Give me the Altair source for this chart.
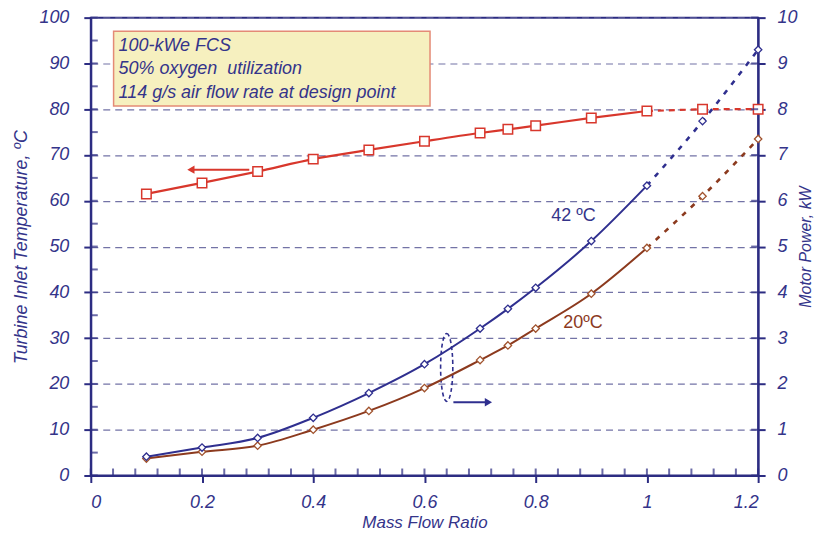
import altair as alt
import pandas as pd

# ---------------- data ----------------
flow = [0.1, 0.2, 0.3, 0.4, 0.5, 0.6, 0.7, 0.75, 0.8, 0.9, 1.0]
flow_ext = [1.0, 1.1, 1.2]

temp = [61.5, 63.9, 66.4, 69.1, 71.1, 73.0, 74.8, 75.6, 76.4, 78.1, 79.6]
temp_ext = [79.6, 80.0, 80.0]

p42 = [0.41, 0.61, 0.82, 1.26, 1.80, 2.43, 3.21, 3.64, 4.10, 5.12, 6.33]
p42_ext = [6.33, 7.74, 9.30]

p20 = [0.37, 0.52, 0.65, 1.00, 1.41, 1.91, 2.52, 2.84, 3.21, 3.97, 4.97]
p20_ext = [4.97, 6.10, 7.35]

x_ticks = [0, 0.2, 0.4, 0.6, 0.8, 1.0, 1.2]
x_minor = [0.04, 0.08, 0.12, 0.16, 0.24, 0.28, 0.32, 0.36, 0.44, 0.48, 0.52, 0.56,
           0.64, 0.68, 0.72, 0.76, 0.84, 0.88, 0.92, 0.96, 1.04, 1.08, 1.12, 1.16]
y_left_ticks = [0, 10, 20, 30, 40, 50, 60, 70, 80, 90, 100]
y_left_minor = [5, 15, 25, 35, 45, 55, 65, 75, 85, 95]
y_right_ticks = [0, 1, 2, 3, 4, 5, 6, 7, 8, 9, 10]

box_lines = ["100-kWe FCS", "50% oxygen\u00a0 utilization", "114 g/s air flow rate at design point"]
box_line_y = [93.9, 88.7, 83.5]
box_extent = {"x": 0.041, "x2": 0.61, "y": 97.0, "y2": 80.7}

curve_labels = ["42 ºC", "20ºC"]
curve_label_x = [0.868, 0.885]
curve_label_y = [5.66, 3.33]

# annotation arrows (data coords)
red_arrow_x = [0.285, 0.18]
red_arrow_y = [66.8, 66.8]
blue_arrow_x = [0.652, 0.715]
blue_arrow_y = [16.0, 16.0]
loop_center = (0.64, 23.6)

# ---------------- styles ----------------
NAVY = "#34348a"
AXIS = "#2c2c82"
RED = "#d8372c"
BLUE = "#2f2f8f"
BROWN = "#8c3a1e"
GRID = "#7373a6"
FONT = "Liberation Sans"

xs = alt.Scale(domain=[0, 1.2], nice=False, zero=False)
yl = alt.Scale(domain=[0, 100], nice=False)
yr = alt.Scale(domain=[0, 10], nice=False)

x_axis = alt.Axis(values=x_ticks, labelExpr="format(datum.value, '~g')",
                  tickSize=7, tickWidth=2, tickColor=AXIS, domainColor=AXIS, domainWidth=2,
                  labelPadding=11, titlePadding=3, titleFontSize=17, grid=False)
yl_axis = alt.Axis(values=y_left_ticks, tickSize=7, tickWidth=2, tickColor=AXIS,
                   domainColor=AXIS, domainWidth=2, labelPadding=15, titlePadding=8,
                   grid=True, gridColor=GRID, gridDash=[7, 5], gridWidth=1.2)
yr_axis = alt.Axis(orient="right", values=y_right_ticks, tickSize=7, tickWidth=2, tickColor=AXIS,
                   domainColor=AXIS, domainWidth=2, labelPadding=12, titlePadding=0,
                   titleAngle=270, titleBaseline="top", titleFontSize=16, grid=False)

X = lambda: alt.X("x:Q", scale=xs, axis=x_axis, title="Mass Flow Ratio")
YL = lambda: alt.Y("y:Q", scale=yl, axis=yl_axis, title="Turbine Inlet Temperature, ºC")
YR = lambda: alt.Y("y:Q", scale=yr, axis=yr_axis, title="Motor Power, kW")

df_temp = pd.DataFrame({"x": flow, "y": temp})
df_temp_ext = pd.DataFrame({"x": flow_ext, "y": temp_ext})

left_major = alt.Chart(pd.DataFrame({"y": y_left_ticks, "x": [0] * len(y_left_ticks)})).mark_tick(
    orient="horizontal", size=7, thickness=2, color=AXIS, xOffset=3.5).encode(x=X(), y=YL())
left_minor = alt.Chart(pd.DataFrame({"y": y_left_minor, "x": [0] * len(y_left_minor)})).mark_tick(
    orient="horizontal", size=7, thickness=2, color=AXIS, xOffset=3.5).encode(x=X(), y=YL())
bottom_major = alt.Chart(pd.DataFrame({"x": x_ticks, "y": [0] * len(x_ticks)})).mark_tick(
    orient="vertical", size=7, thickness=2, color=AXIS, yOffset=-3.5).encode(x=X(), y=YL())
bottom_minor = alt.Chart(pd.DataFrame({"x": x_minor, "y": [0] * len(x_minor)})).mark_tick(
    orient="vertical", size=7, thickness=2, color=AXIS, yOffset=-3.5).encode(x=X(), y=YL())

temp_line = alt.Chart(df_temp).mark_line(color=RED, strokeWidth=2.2, interpolate="monotone").encode(x=X(), y=YL())
temp_line_ext = alt.Chart(df_temp_ext).mark_line(color=RED, strokeWidth=2.2, strokeDash=[6, 5]).encode(x=X(), y=YL())
temp_pts = alt.Chart(pd.concat([df_temp, df_temp_ext.iloc[1:]])).mark_point(
    shape="square", size=90, filled=True, fill="white", stroke=RED, strokeWidth=1.5, opacity=1).encode(x=X(), y=YL())

box = alt.Chart(pd.DataFrame([box_extent])).mark_rect(
    fill="#f6f0bf", stroke="#e48a76", strokeWidth=1.5).encode(
    x=X(), x2="x2:Q", y=YL(), y2="y2:Q")
box_text = alt.Chart(pd.DataFrame({"x": [0.05] * 3, "y": box_line_y, "t": box_lines})).mark_text(
    align="left", baseline="middle", font=FONT, fontStyle="italic", fontSize=18, color=NAVY).encode(
    x=X(), y=YL(), text="t:N")

red_arrow = alt.Chart(pd.DataFrame({"x": red_arrow_x, "y": red_arrow_y})).mark_line(
    color=RED, strokeWidth=2).encode(x=X(), y=YL())
red_head = alt.Chart(pd.DataFrame({"x": [red_arrow_x[1]], "y": [red_arrow_y[1]]})).mark_point(
    shape="triangle-left", size=70, filled=True, color=RED, opacity=1).encode(x=X(), y=YL())

blue_arrow = alt.Chart(pd.DataFrame({"x": blue_arrow_x, "y": blue_arrow_y})).mark_line(
    color=BLUE, strokeWidth=2).encode(x=X(), y=YL())
blue_head = alt.Chart(pd.DataFrame({"x": [blue_arrow_x[1]], "y": [blue_arrow_y[1]]})).mark_point(
    shape="triangle-right", size=70, filled=True, color=BLUE, opacity=1).encode(x=X(), y=YL())
loop = alt.Chart(pd.DataFrame({"x": [loop_center[0]], "y": [loop_center[1]]})).mark_point(
    shape="M0,-1A0.18,1,0,1,1,0,1A0.18,1,0,1,1,0,-1Z", size=4624, filled=False,
    stroke=BLUE, strokeWidth=1.6, strokeDash=[4, 3], opacity=1).encode(x=X(), y=YL())

left_group = alt.layer(box, box_text, left_major, left_minor, bottom_major, bottom_minor,
                       temp_line, temp_line_ext, temp_pts, red_arrow, red_head,
                       blue_arrow, blue_head, loop)

# ---------------- right group ----------------
df42 = pd.DataFrame({"x": flow, "y": p42})
df42e = pd.DataFrame({"x": flow_ext, "y": p42_ext})
df20 = pd.DataFrame({"x": flow, "y": p20})
df20e = pd.DataFrame({"x": flow_ext, "y": p20_ext})

right_major = alt.Chart(pd.DataFrame({"y": y_right_ticks, "x": [1.2] * len(y_right_ticks)})).mark_tick(
    orient="horizontal", size=7, thickness=2, color=AXIS, xOffset=-3.5).encode(x=X(), y=YR())

l42 = alt.Chart(df42).mark_line(color=BLUE, strokeWidth=2, interpolate="monotone").encode(x=X(), y=YR())
l42e = alt.Chart(df42e).mark_line(color=BLUE, strokeWidth=2.6, strokeDash=[5, 7], interpolate="monotone").encode(x=X(), y=YR())
pt42 = alt.Chart(pd.concat([df42, df42e.iloc[1:]])).mark_point(
    shape="diamond", size=55, filled=True, fill="white", stroke=BLUE, strokeWidth=1.3, opacity=1).encode(x=X(), y=YR())

l20 = alt.Chart(df20).mark_line(color=BROWN, strokeWidth=2, interpolate="monotone").encode(x=X(), y=YR())
l20e = alt.Chart(df20e).mark_line(color=BROWN, strokeWidth=2.6, strokeDash=[5, 7], interpolate="monotone").encode(x=X(), y=YR())
pt20 = alt.Chart(pd.concat([df20, df20e.iloc[1:]])).mark_point(
    shape="diamond", size=55, filled=True, fill="white", stroke="#a0522d", strokeWidth=1.3, opacity=1).encode(x=X(), y=YR())

lab = alt.Chart(pd.DataFrame({"x": curve_label_x, "y": curve_label_y, "t": curve_labels,
                              "c": [NAVY, BROWN]})).mark_text(
    font=FONT, fontSize=18, baseline="middle", align="center").encode(
    x=X(), y=YR(), text="t:N", color=alt.Color("c:N", scale=None))

right_group = alt.layer(right_major, l20, l20e, pt20, l42, l42e, pt42, lab)

chart = alt.layer(left_group, right_group).resolve_scale(y="independent").properties(
    width=669, height=459,
    autosize=alt.AutoSizeParams(type="none"),
    padding={"left": 83, "top": 9, "right": 56, "bottom": 60},
    background="white",
).configure_view(stroke=AXIS, strokeWidth=2).configure_axis(
    labelFont=FONT, labelFontStyle="italic", labelFontSize=18, labelColor=NAVY,
    titleFont=FONT, titleFontStyle="italic", titleFontSize=18, titleColor=NAVY, titleFontWeight="normal",
)

chart.save("out.html", embed_options={"renderer": "svg", "actions": False})
